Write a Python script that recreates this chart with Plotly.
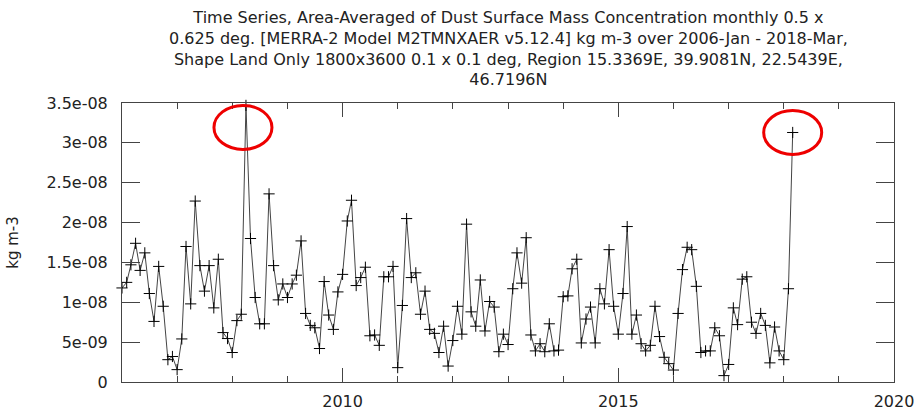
import pandas as pd
import plotly.graph_objects as go

# Monthly values, 2006-Jan .. 2018-Mar, in units of 1e-8 kg m-3
vals_2006 = [1.18, 1.25, 1.47, 1.74, 1.40, 1.62, 1.11, 0.76, 1.45, 0.95, 0.28, 0.32]
vals_2007 = [0.155, 0.54, 1.70, 0.98, 2.27, 1.46, 1.14, 1.46, 0.93, 1.54, 0.62, 0.545]
vals_2008 = [0.37, 0.77, 0.85, 3.47, 1.80, 1.06, 0.73, 0.73, 2.36, 1.46, 1.03, 1.23]
vals_2009 = [1.06, 1.23, 1.34, 1.77, 0.86, 0.71, 0.68, 0.42, 1.26, 0.84, 0.66, 1.13]
vals_2010 = [1.35, 2.02, 2.28, 1.21, 1.31, 1.44, 0.58, 0.59, 0.46, 1.32, 1.32, 1.45]
vals_2011 = [0.18, 0.96, 2.05, 1.31, 1.37, 0.85, 1.14, 0.66, 0.61, 0.37, 0.70, 0.20]
vals_2012 = [0.52, 0.95, 0.60, 1.98, 0.88, 0.70, 1.28, 0.64, 1.01, 0.94, 0.38, 0.60]
vals_2013 = [0.47, 1.17, 1.62, 1.24, 1.81, 0.59, 0.39, 0.48, 0.38, 0.73, 0.39, 0.40]
vals_2014 = [1.07, 1.08, 1.42, 1.54, 0.49, 0.79, 0.94, 0.49, 1.17, 0.98, 1.66, 0.95]
vals_2015 = [0.60, 1.11, 1.95, 0.60, 0.84, 0.48, 0.39, 0.46, 0.95, 0.57, 0.31, 0.23]
vals_2016 = [0.15, 0.86, 1.41, 1.69, 1.66, 1.20, 0.37, 0.39, 0.39, 0.68, 0.58, 0.08]
vals_2017 = [0.22, 0.93, 0.72, 1.29, 1.32, 0.75, 0.61, 0.86, 0.71, 0.24, 0.69, 0.39]
vals_2018 = [0.28, 1.17, 3.13]

scaled = (vals_2006 + vals_2007 + vals_2008 + vals_2009 + vals_2010 + vals_2011 +
          vals_2012 + vals_2013 + vals_2014 + vals_2015 + vals_2016 + vals_2017 + vals_2018)
values = [v * 1e-8 for v in scaled]
dates = pd.date_range("2006-01-01", periods=len(values), freq="MS")

y_tickvals = [0, 5e-9, 1e-8, 1.5e-8, 2e-8, 2.5e-8, 3e-8, 3.5e-8]
y_ticktext = ["0", "5e-09", "1e-08", "1.5e-08", "2e-08", "2.5e-08", "3e-08", "3.5e-08"]

# Highlighted months (red circles)
highlight_dates = ["2008-04-01", "2018-03-01"]

title_text = ("Time Series, Area-Averaged of Dust Surface Mass Concentration monthly 0.5 x<br>"
              "0.625 deg. [MERRA-2 Model M2TMNXAER v5.12.4] kg m-3 over 2006-Jan - 2018-Mar,<br>"
              "Shape Land Only 1800x3600 0.1 x 0.1 deg, Region 15.3369E, 39.9081N, 22.5439E,<br>"
              "46.7196N")

FONT = "DejaVu Sans"
TXT = "#222222"
AX = "#444444"

fig = go.Figure()
fig.add_trace(go.Scatter(
    x=dates, y=values, mode="lines+markers",
    line=dict(color="#444444", width=1),
    marker=dict(symbol="cross-thin", size=8, line=dict(color="black", width=1), color="black"),
    cliponaxis=False, showlegend=False,
))

shapes = []
offsets = {"2008-04-01": (-3, -22), "2018-03-01": (0, 0)}
for d in highlight_dates:
    idx = list(dates.strftime("%Y-%m-%d")).index(d)
    dx, dy = offsets[d]
    shapes.append(dict(
        type="circle", xref="x", yref="y",
        xsizemode="pixel", ysizemode="pixel",
        xanchor=d, yanchor=values[idx],
        x0=dx - 29, x1=dx + 29, y0=dy - 22, y1=dy + 22,
        line=dict(color="#ee0000", width=3),
    ))

fig.update_layout(
    width=917, height=411,
    margin=dict(l=122, r=23, t=103, b=29, autoexpand=False),
    paper_bgcolor="white", plot_bgcolor="white",
    font=dict(family=FONT, size=16, color=TXT),
    shapes=shapes,
    annotations=[dict(
        text=title_text, xref="paper", yref="paper", x=0.5, y=1.346,
        xanchor="center", yanchor="top", showarrow=False, align="center",
        font=dict(family=FONT, size=16, color=TXT),
    )],
)

fig.update_xaxes(
    type="date", range=["2006-01-01", "2020-01-01"],
    tick0="2010-01-01", dtick="M60", tickformat="%Y",
    ticks="inside", ticklen=14, tickcolor=AX, tickwidth=1,
    minor=dict(dtick="M12", tick0="2006-01-01", ticks="inside", ticklen=6,
               tickcolor=AX, tickwidth=1, showgrid=False),
    showline=True, linecolor=AX, linewidth=1, mirror="allticks",
    showgrid=False, zeroline=False, ticklabelstandoff=5, automargin=False,
    tickfont=dict(family=FONT, size=16, color=TXT),
)
fig.update_yaxes(
    range=[0, 3.5e-8], tickvals=y_tickvals, ticktext=y_ticktext,
    ticks="inside", ticklen=18, tickcolor=AX, tickwidth=1,
    showline=True, linecolor=AX, linewidth=1, mirror="allticks",
    showgrid=False, zeroline=False, ticklabelstandoff=10, automargin=False,
    tickfont=dict(family=FONT, size=16, color=TXT),
    title=dict(text="kg m-3", standoff=24, font=dict(family=FONT, size=15, color=TXT)),
)

fig.write_html("out.html")
